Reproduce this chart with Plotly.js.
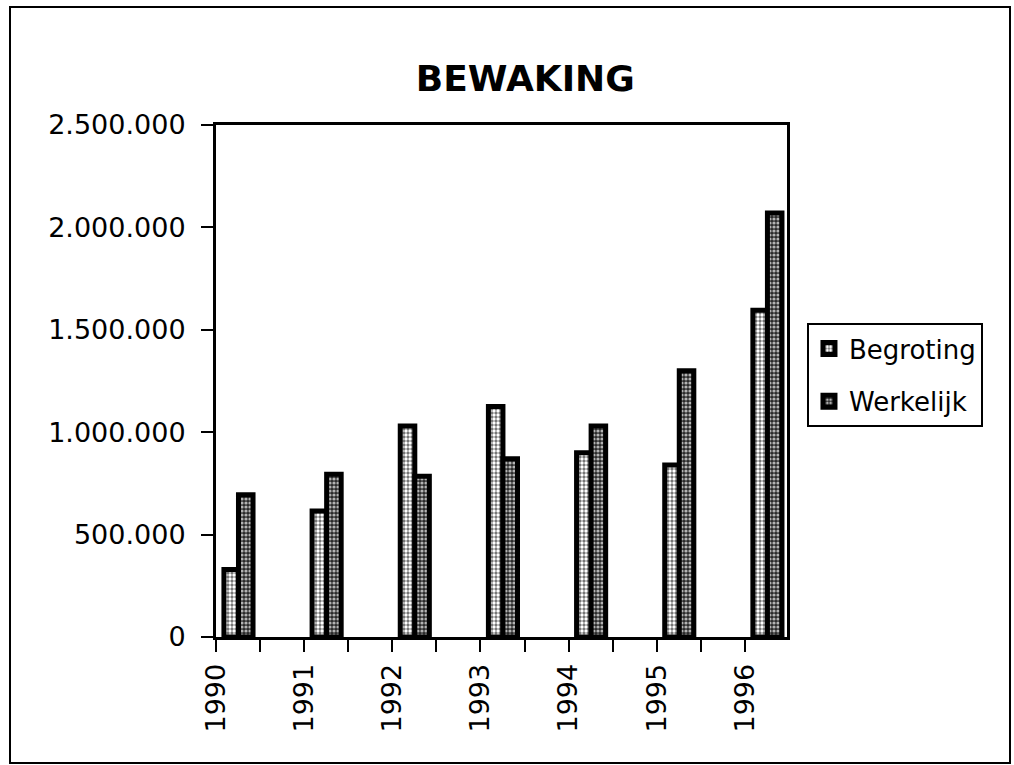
<!DOCTYPE html>
<html>
<head>
<meta charset="utf-8">
<script src="https://cdn.plot.ly/plotly-3.0.1.min.js"></script>
<style>
  html, body { margin: 0; padding: 0; background: #ffffff; }
  #wrap { position: relative; width: 1014px; height: 765px; }
  #chart { width: 1014px; height: 765px; }
  #frame { position: absolute; left: 9px; top: 6px; width: 998px; height: 754px;
           border: 2px solid #000; pointer-events: none; }
</style>
</head>
<body>
<div id="wrap">
  <div id="chart"></div>
  <div id="frame"></div>
</div>
<script>
// ---- data ----
const years = [1990, 1991, 1992, 1993, 1994, 1995, 1996];
const begroting = [330000, 615000, 1030000, 1125000, 900000, 840000, 1595000];
const werkelijk = [695000, 795000, 785000, 870000, 1030000, 1300000, 2070000];
const seriesNames = ['Begroting', 'Werkelijk'];
const chartTitle = 'BEWAKING';
const yTicks = [0, 500000, 1000000, 1500000, 2000000, 2500000];

const FONT = 'DejaVu Sans, Arial, sans-serif';
const xRange = [years[0], years[years.length - 1] + 0.477];
const yRange = [0, 2500000];

const traces = [
  {
    type: 'bar', name: seriesNames[0], legendgroup: 'a',
    x: years, y: begroting,
    offset: 0.09, width: 0.165,
    marker: {
      color: '#7a7a7a',
      line: { color: '#000', width: 5 },
      pattern: { shape: '.', bgcolor: '#6a6a6a', fgcolor: '#ffffff', size: 4, solidity: 0.55 }
    },
    hoverinfo: 'x+y'
  },
  {
    type: 'bar', name: seriesNames[1], legendgroup: 'b',
    x: years, y: werkelijk,
    offset: 0.255, width: 0.165,
    marker: {
      color: '#404040',
      line: { color: '#000', width: 5 },
      pattern: { shape: '.', bgcolor: '#2a2a2a', fgcolor: '#b4b4b4', size: 4, solidity: 0.5 }
    },
    hoverinfo: 'x+y'
  }
];

const layout = {
  width: 1014, height: 765,
  margin: { l: 216, r: 227, t: 125, b: 128 },
  paper_bgcolor: '#ffffff', plot_bgcolor: '#ffffff',
  separators: ',.',
  barmode: 'overlay',
  showlegend: true,
  font: { family: FONT, color: '#000' },
  title: {
    text: chartTitle,
    font: { family: FONT, size: 36, weight: 700, color: '#000' },
    xref: 'container', x: 0.518, xanchor: 'center',
    yref: 'container', y: 0.898, yanchor: 'middle'
  },
  xaxis: {
    type: 'linear', range: xRange,
    tickmode: 'linear', tick0: years[0], dtick: 1, tickformat: 'd',
    tickangle: -90,
    ticks: 'outside', ticklen: 12, tickwidth: 2, tickcolor: '#000',
    minor: { dtick: 0.5, tick0: years[0], ticks: 'outside', ticklen: 12, tickwidth: 2, tickcolor: '#000', showgrid: false },
    ticklabelstandoff: 1,
    tickfont: { family: FONT, size: 27, color: '#000' },
    showline: true, linewidth: 3, linecolor: '#000', mirror: true,
    showgrid: false, zeroline: false, fixedrange: true
  },
  yaxis: {
    range: yRange,
    tickmode: 'array', tickvals: yTicks, tickformat: ',d',
    ticks: 'outside', ticklen: 12, tickwidth: 2, tickcolor: '#000',
    ticklabelstandoff: 10,
    tickfont: { family: FONT, size: 27, color: '#000' },
    showline: true, linewidth: 3, linecolor: '#000', mirror: true,
    showgrid: false, zeroline: false, fixedrange: true
  },
  legend: {
    x: 1.035, xanchor: 'left', y: 0.613, yanchor: 'top',
    bgcolor: '#ffffff', bordercolor: '#000', borderwidth: 2,
    font: { family: FONT, size: 26, color: '#000' },
    tracegroupgap: 16, itemwidth: 30, traceorder: 'grouped'
  }
};

Plotly.newPlot('chart', traces, layout, { displayModeBar: false, staticPlot: true });
</script>
</body>
</html>
